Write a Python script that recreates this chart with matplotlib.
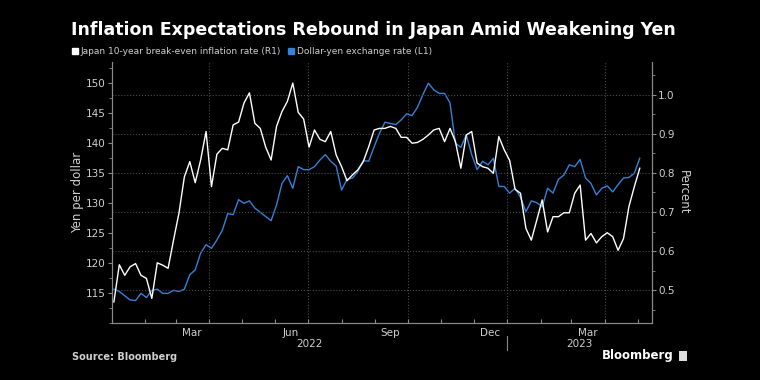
import matplotlib
matplotlib.use("Agg")
import matplotlib.pyplot as plt
import matplotlib.dates as mdates
import matplotlib.transforms as mtransforms
from matplotlib.lines import Line2D
from matplotlib.ticker import MultipleLocator, FormatStrFormatter
import pandas as pd
import numpy as np


# NOTE : values, one every 5 days from Jan 3, 2022
dates = pd.date_range("2022-01-03", periods=98, freq="5D")

usdjpy = [
    115.7, 115.3, 114.6, 113.9, 113.8, 115.0, 114.3, 115.5, 115.7, 115.0,
    115.0, 115.5, 115.3, 115.7, 118.1, 118.9, 121.7, 123.1, 122.5, 123.9,
    125.5, 128.3, 128.1, 130.6, 130.0, 130.4, 129.2, 128.5, 127.8, 127.1,
    129.7, 133.3, 134.6, 132.5, 136.1, 135.6, 135.6, 136.1, 137.2, 138.1,
    137.0, 136.2, 132.2, 134.0, 134.2, 135.3, 137.1, 137.0, 139.4, 141.7,
    143.5, 143.3, 143.1, 143.9, 144.9, 144.6, 146.0, 148.1, 150.0, 148.9,
    148.3, 148.3, 146.7, 140.0, 139.3, 141.4, 138.1, 135.6, 137.0, 136.4,
    137.5, 132.8, 132.8, 131.7, 132.5, 131.0, 128.6, 130.4, 130.1, 129.4,
    132.5, 131.7, 134.0, 134.7, 136.4, 136.1, 137.3, 134.2, 133.3, 131.4,
    132.5, 132.9, 131.9, 133.1, 134.2, 134.3, 135.0, 137.5,
]

breakeven = [
    0.470, 0.565, 0.538, 0.560, 0.568, 0.538, 0.530, 0.479, 0.570, 0.564,
    0.556, 0.628, 0.697, 0.790, 0.829, 0.775, 0.833, 0.906, 0.765, 0.848,
    0.863, 0.859, 0.923, 0.930, 0.979, 1.005, 0.927, 0.914, 0.866, 0.833,
    0.919, 0.957, 0.983, 1.030, 0.955, 0.938, 0.866, 0.910, 0.886, 0.880,
    0.906, 0.846, 0.816, 0.780, 0.795, 0.808, 0.829, 0.867, 0.910, 0.914,
    0.914, 0.919, 0.914, 0.891, 0.891, 0.876, 0.878, 0.886, 0.897, 0.910,
    0.914, 0.880, 0.914, 0.880, 0.812, 0.897, 0.906, 0.825, 0.816, 0.812,
    0.799, 0.893, 0.859, 0.832, 0.758, 0.748, 0.658, 0.628, 0.679, 0.731,
    0.649, 0.688, 0.688, 0.698, 0.698, 0.748, 0.769, 0.628, 0.645, 0.621,
    0.637, 0.647, 0.637, 0.602, 0.632, 0.714, 0.765, 0.812,
]

month_labels = ["Mar", "Jun", "Sep", "Dec", "Mar"]
month_label_dates = pd.to_datetime(["2022-03-16", "2022-06-15", "2022-09-15", "2022-12-16", "2023-03-16"])
quarter_lines = pd.to_datetime(["2022-04-01", "2022-07-01", "2022-10-01", "2023-01-01", "2023-04-01"])
year_labels = ["2022", "2023"]
year_label_dates = pd.to_datetime(["2022-07-02", "2023-03-08"])

blue = "#3580d8"
grey = "#8a8a8a"
tick_col = "#cfcfcf"
grid_col = "#4a4a4a"

fig = plt.figure(figsize=(7.6, 3.8), dpi=100, facecolor="black")
ax = fig.add_axes([0.147, 0.149, 0.7105, 0.689])
ax.set_facecolor("black")
ax2 = ax.twinx()

# NOTE : quarter grid lines
for d in quarter_lines:
    ax.axvline(d, color=grid_col, linestyle=":", linewidth=0.8, zorder=0)

ax.plot(dates, usdjpy, color=blue, linewidth=1.0, zorder=3)
ax2.plot(dates, breakeven, color="white", linewidth=1.0, zorder=3)

ax.set_xlim(pd.Timestamp("2022-01-01"), pd.Timestamp("2023-05-14"))
ax.set_ylim(110, 153.6)
ax2.set_ylim(0.415, 1.085)

# NOTE : left axis
ax.set_yticks(np.arange(115, 151, 5))
ax.yaxis.set_minor_locator(MultipleLocator(2.5))
ax.tick_params(axis="y", which="both", direction="out", color=grey, labelcolor=tick_col, labelsize=7.5, pad=1.5)
ax.tick_params(axis="y", which="major", length=3)
ax.tick_params(axis="y", which="minor", length=2)

# NOTE : right axis
ax2.set_yticks(np.arange(0.5, 1.01, 0.1))
ax2.yaxis.set_major_formatter(FormatStrFormatter("%.1f"))
ax2.yaxis.set_minor_locator(MultipleLocator(0.05))
ax2.tick_params(axis="y", which="both", direction="out", color=grey, labelcolor=tick_col, labelsize=7.5, pad=1.5)
ax2.tick_params(axis="y", which="major", length=3)
ax2.tick_params(axis="y", which="minor", length=2)
ax2.grid(axis="y", color=grid_col, linestyle=":", linewidth=0.8)
ax2.set_axisbelow(True)

# NOTE : x axis, ticks at each month, labels mid-month
ax.xaxis.set_major_locator(mdates.MonthLocator())
ax.xaxis.set_major_formatter(plt.NullFormatter())
ax.set_xticks(mdates.date2num(month_label_dates), labels=month_labels, minor=True)
ax.tick_params(axis="x", which="major", direction="in", length=3, color=grey)
ax.tick_params(axis="x", which="minor", length=0, labelcolor=tick_col, labelsize=7.5, pad=3)

for a in (ax, ax2):
    a.spines["top"].set_visible(False)
    for s in ("left", "right", "bottom"):
        a.spines[s].set_color(grey)
        a.spines[s].set_linewidth(0.8)

trans = mtransforms.blended_transform_factory(ax.transData, ax.transAxes)
for d, lab in zip(year_label_dates, year_labels):
    ax.text(d, -0.077, lab, transform=trans, ha="center", va="center", color=tick_col, fontsize=7.5)
ax.plot([quarter_lines[3], quarter_lines[3]], [-0.049, -0.102], transform=trans, color=grey, linewidth=0.8, clip_on=False)

fig.text(78 / 760, 0.493, "Yen per dollar", rotation=90, ha="center", va="center", color=tick_col, fontsize=8.5)
fig.text(683 / 760, 0.493, "Percent", rotation=270, ha="center", va="center", color=tick_col, fontsize=8.5)

fig.text(71 / 760, 1 - 35 / 380, "Inflation Expectations Rebound in Japan Amid Weakening Yen",
         color="white", fontsize=12.5, fontweight="bold", va="baseline")

handles = [
    Line2D([], [], marker="s", color="white", linestyle="none", markersize=4.5),
    Line2D([], [], marker="s", color=blue, linestyle="none", markersize=4.5),
]
leg = fig.legend(handles, ["Japan 10-year break-even inflation rate (R1)", "Dollar-yen exchange rate (L1)"],
                 loc="center left", bbox_to_anchor=(0.0947, 1 - 51.5 / 380), ncol=2, frameon=False,
                 fontsize=6.5, handlelength=0.6, handletextpad=0.3, columnspacing=0.9, borderpad=0, borderaxespad=0)
for t in leg.get_texts():
    t.set_color(tick_col)

fig.text(72 / 760, 1 - 357 / 380, "Source: Bloomberg", color=tick_col, fontsize=7, fontweight="bold", va="center")
fig.text(674 / 760, 1 - 356 / 380, "Bloomberg", color="white", fontsize=8.5, fontweight="bold", va="center", ha="right")
fig.patches.append(plt.Rectangle((679 / 760, 1 - 361 / 380), 8 / 760, 10 / 380, transform=fig.transFigure,
                                 facecolor="#dddddd", edgecolor="none"))

fig.savefig("out.png", dpi=100, facecolor="black")
